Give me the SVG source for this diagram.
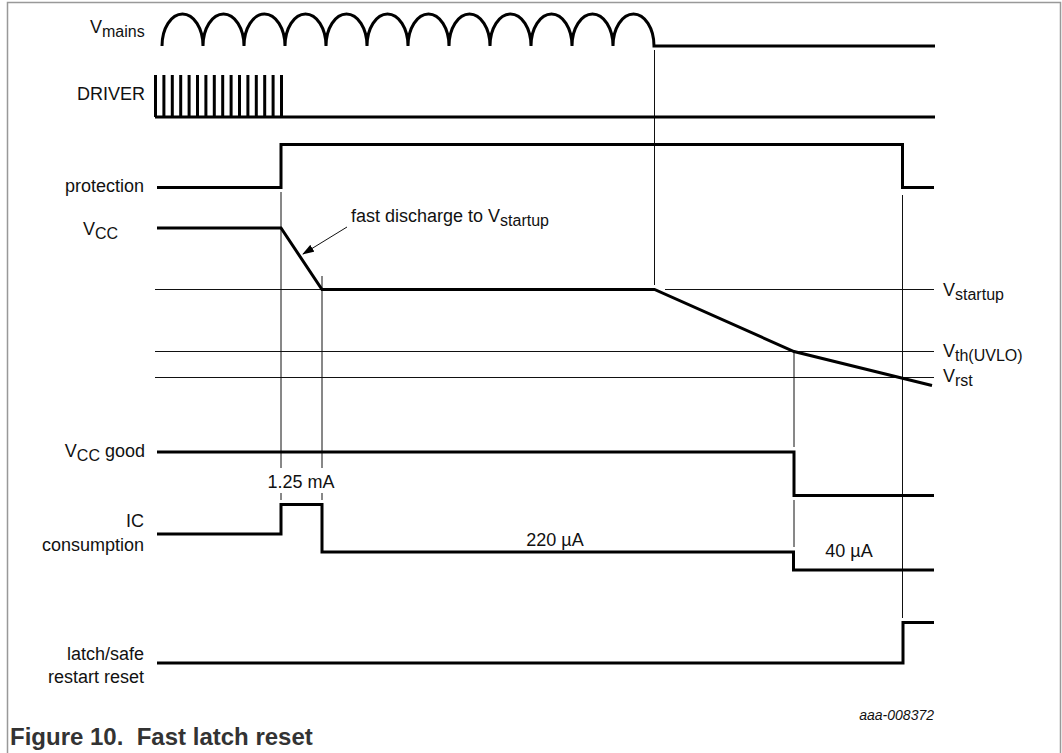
<svg xmlns="http://www.w3.org/2000/svg" width="1062" height="753" viewBox="0 0 1062 753">
<style>
  .sig{fill:none;stroke:#000;stroke-width:3;stroke-linejoin:miter}
  .thin{fill:none;stroke:#111;stroke-width:1}
  .frame{fill:none;stroke:#999;stroke-width:1.5}
  text{font-family:"Liberation Sans",Arial,sans-serif;font-size:18px;fill:#111}
  .sub{font-size:16px}
  .r{text-anchor:end}
  .cap{font-weight:bold;font-size:24px;fill:#333}
  .code{font-style:italic;font-size:14px}
</style>
<defs>
  <marker id="ah" markerWidth="12" markerHeight="8" refX="11" refY="4" orient="auto" markerUnits="userSpaceOnUse">
    <path d="M0,0 L12,4 L0,8 Z" fill="#000"/>
  </marker>
</defs>
<rect width="1062" height="753" fill="#fff"/>
<path class="frame" d="M7.5,753 V2.5 H1060.5 V753"/>

<g id="connectors">
  <path class="thin" d="M155,289.5 H322 M665,289.5 H934"/>
  <path class="thin" d="M155,351.5 H934"/>
  <path class="thin" d="M155,377.5 H934"/>
  <path class="thin" d="M281,192 V468 M281,493 V500"/>
  <path class="thin" d="M322,276 V468 M322,493 V500"/>
  <path class="thin" d="M654.5,50 V285"/>
  <path class="thin" d="M794,351 V447 M794,500 V547"/>
  <path class="thin" d="M902.5,195 V618"/>
  <line class="thin" x1="347" y1="227" x2="303" y2="254" marker-end="url(#ah)"/>
</g>

<g id="vmains">
  <text x="90" y="33">V<tspan class="sub" dy="4">mains</tspan></text>
  <path class="sig" d="M162,46 A20.5,32 0 0 1 203,46 A20.5,32 0 0 1 244,46 A20.5,32 0 0 1 285,46 A20.5,32 0 0 1 326,46 A20.5,32 0 0 1 367,46 A20.5,32 0 0 1 408,46 A20.5,32 0 0 1 449,46 A20.5,32 0 0 1 490,46 A20.5,32 0 0 1 531,46 A20.5,32 0 0 1 572,46 A20.5,32 0 0 1 613,46 A20.5,32 0 0 1 654,46 H935"/>
</g>

<g id="driver">
  <text class="r" x="145" y="100">DRIVER</text>
  <path class="sig" d="M155,117 H935"/>
  <path class="sig" stroke-width="2.5" d="M155.5,75 V117 M163.9,75 V117 M172.3,75 V117 M180.7,75 V117 M189.1,75 V117 M197.5,75 V117 M205.9,75 V117 M214.3,75 V117 M222.7,75 V117 M231.1,75 V117 M239.5,75 V117 M247.9,75 V117 M256.3,75 V117 M264.7,75 V117 M273.1,75 V117 M281.5,75 V117"/>
</g>

<g id="protection">
  <text class="r" x="144" y="192">protection</text>
  <path class="sig" d="M157,187.5 H281 V144.5 H902.5 V187.5 H934"/>
</g>

<g id="vcc">
  <text x="83" y="235">V<tspan class="sub" dy="4">CC</tspan></text>
  <path class="sig" d="M157,228 H281 L322,289.5 H654.5 L794,351.5 L932,385.5"/>
  <text x="351" y="222">fast discharge to V<tspan class="sub" dy="4">startup</tspan></text>
  <text x="943" y="296">V<tspan class="sub" dy="4">startup</tspan></text>
  <text x="943" y="357">V<tspan class="sub" dy="4">th(UVLO)</tspan></text>
  <text x="943" y="382">V<tspan class="sub" dy="4">rst</tspan></text>
</g>

<g id="vccgood">
  <text class="r" x="145" y="457">V<tspan class="sub" dy="4">CC</tspan><tspan dy="-4"> good</tspan></text>
  <path class="sig" d="M157,452 H794 V495.5 H934"/>
</g>

<g id="ic">
  <text x="301" y="488" text-anchor="middle">1.25 mA</text>
  <text class="r" x="144" y="527">IC</text>
  <text class="r" x="144" y="551">consumption</text>
  <path class="sig" d="M157,534 H281 V504.5 H322 V552 H793.5 V570 H934"/>
  <text x="555" y="546" text-anchor="middle">220 µA</text>
  <text x="849" y="557" text-anchor="middle">40 µA</text>
</g>

<g id="latch">
  <text class="r" x="144" y="660">latch/safe</text>
  <text class="r" x="144" y="683">restart reset</text>
  <path class="sig" d="M157,663 H903 V622.5 H934"/>
</g>

<text class="code r" x="934" y="720">aaa-008372</text>
<text class="cap" x="10" y="745">Figure 10.&#160; Fast latch reset</text>
</svg>
